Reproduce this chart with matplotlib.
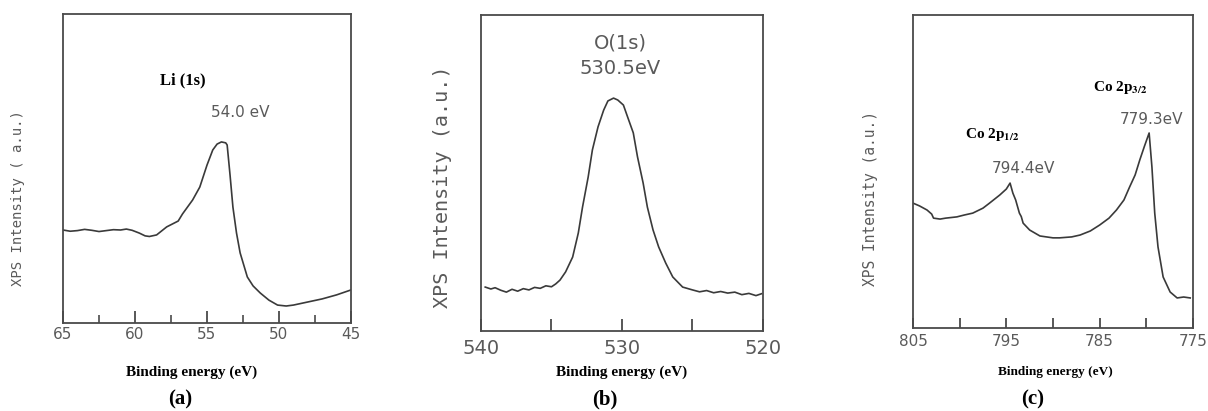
import matplotlib
matplotlib.use("Agg")
import matplotlib.pyplot as plt
from matplotlib.ticker import FixedLocator, FixedFormatter

plt.rcParams['mathtext.fontset'] = 'stix'

# ---- Panel (a): Li 1s ----
li_energy = [65.0, 64.5, 64.0, 63.5, 63.0, 62.5, 62.0, 61.5, 61.0, 60.6, 60.2, 59.7, 59.3, 59.0, 58.5,
             57.8, 57.0, 56.7, 56.0, 55.5, 55.0, 54.6, 54.3, 54.0, 53.7, 53.6, 53.4, 53.2, 52.95,
             52.7, 52.2, 51.8, 51.3, 50.7, 50.1, 49.5, 49.0, 48.0, 47.0, 46.0, 45.0]
li_intensity = [30.1, 29.7, 29.9, 30.3, 30.0, 29.6, 29.9, 30.2, 30.1, 30.4, 30.0, 29.1, 28.2, 28.0, 28.5,
                31.1, 33.0, 35.3, 39.8, 44.0, 51.1, 56.0, 57.9, 58.6, 58.3, 57.6, 47.9, 37.5, 29.1,
                22.7, 14.9, 12.0, 9.7, 7.4, 5.8, 5.5, 5.8, 6.8, 7.8, 9.1, 10.7]

# ---- Panel (b): O 1s ----
o_energy = [539.7, 539.3, 539.0, 538.6, 538.2, 537.8, 537.4, 537.0, 536.6, 536.2, 535.8, 535.4,
            535.0, 534.7, 534.4, 534.0, 533.5, 533.1, 532.8, 532.4, 532.1, 531.7, 531.3, 531.0,
            530.6, 530.3, 529.9, 529.6, 529.2, 528.9, 528.5, 528.2, 527.8, 527.4, 526.9, 526.4,
            525.7, 525.0, 524.5, 524.0, 523.5, 523.0, 522.5, 522.0, 521.5, 521.0, 520.5, 520.1]
o_intensity = [13.9, 13.3, 13.7, 12.9, 12.3, 13.2, 12.6, 13.4, 13.0, 13.8, 13.5, 14.3,
               14.0, 14.9, 16.1, 18.7, 23.4, 31.0, 39.2, 48.7, 57.3, 64.6, 69.9, 72.8,
               73.7, 73.1, 71.5, 67.7, 62.7, 55.1, 46.8, 39.2, 32.0, 26.6, 21.5, 17.1,
               13.9, 13.0, 12.4, 12.8, 12.1, 12.5, 12.0, 12.3, 11.5, 11.9, 11.2, 11.8]

# ---- Panel (c): Co 2p ----
co_energy = [805.0, 804.3, 803.5, 803.0, 802.8, 802.1, 801.5, 800.3, 799.5, 798.6, 797.5, 796.8,
             795.7, 795.0, 794.6, 794.3, 794.0, 793.6, 793.4, 793.2, 792.5, 791.4, 790.0, 789.3,
             788.0, 787.1, 786.0, 785.0, 784.0, 783.2, 782.4, 781.8, 781.2, 780.7, 780.2, 779.7,
             779.4, 779.1, 778.75, 778.2, 777.45, 776.7, 776.0, 775.3]
co_intensity = [39.9, 39.0, 37.7, 36.4, 35.1, 34.8, 35.1, 35.5, 36.1, 36.7, 38.3, 39.9,
                42.5, 44.4, 46.3, 43.1, 40.9, 36.7, 35.6, 33.5, 31.3, 29.4, 28.8, 28.8,
                29.1, 29.7, 31.0, 32.9, 35.1, 37.7, 40.9, 45.0, 48.9, 53.7, 58.1, 62.3,
                51.4, 36.7, 25.9, 16.3, 11.5, 9.6, 9.9, 9.6]

W, H = 1208, 411
fig = plt.figure(figsize=(W / 100, H / 100), dpi=100)
fig.patch.set_facecolor('white')

line_col = '#3a3a3a'
spine_col = '#4a4a4a'
txt_gray = '#5a5a5a'


def make_ax(l, r, t, b):
    return fig.add_axes([l / W, 1 - b / H, (r - l) / W, (b - t) / H])


def style(ax, xlim, major, labels, minor, lsize, maj_len, min_len, pad):
    ax.set_xlim(*xlim)
    ax.set_ylim(0, 100)
    ax.set_yticks([])
    for s in ax.spines.values():
        s.set_color(spine_col)
        s.set_linewidth(1.3)
    ax.xaxis.set_major_locator(FixedLocator(major))
    ax.xaxis.set_major_formatter(FixedFormatter(labels))
    if minor:
        ax.xaxis.set_minor_locator(FixedLocator(minor))
    ax.tick_params(axis='x', which='major', direction='in', length=maj_len, width=1.3,
                   color=spine_col, labelsize=lsize, labelcolor=txt_gray, pad=pad)
    ax.tick_params(axis='x', which='minor', direction='in', length=min_len, width=1.2,
                   color=spine_col)


# (a)
ax1 = make_ax(63, 351, 14, 323)
ax1.plot(li_energy, li_intensity, color=line_col, lw=1.2)
style(ax1, (65, 45), [65, 60, 55, 50, 45], ['65', '60', '55', '50', '45'],
      [62.5, 57.5, 52.5, 47.5], 11, 9, 6, 3)
ax1.text(56.7, 78.6, 'Li (1s)', family='Liberation Serif', weight='bold', fontsize=12,
         ha='center', va='center', color='black')
ax1.text(52.7, 68.0, '54.0 eV', family='DejaVu Sans', fontsize=11, ha='center', va='center',
         color=txt_gray)

# (b)
ax2 = make_ax(481, 763, 15, 331)
ax2.plot(o_energy, o_intensity, color=line_col, lw=1.2)
style(ax2, (540, 520), [540, 535, 530, 525, 520], ['540', '', '530', '', '520'],
      None, 14, 9, 6, 6)
ax2.text(530.1, 91.1, 'O(1s)', family='DejaVu Sans', fontsize=14, ha='center', va='center',
         color=txt_gray)
ax2.text(530.1, 83.2, '530.5eV', family='DejaVu Sans', fontsize=14, ha='center', va='center',
         color=txt_gray)

# (c)
ax3 = make_ax(913, 1193, 15, 328)
ax3.plot(co_energy, co_intensity, color=line_col, lw=1.2)
style(ax3, (805, 775), [805, 800, 795, 790, 785, 780, 775],
      ['805', '', '795', '', '785', '', '775'], None, 11, 7, 5, 4)
ax3.text(782.8, 76.7, r'Co 2p$_{\mathbf{3/2}}$', family='Liberation Serif', weight='bold',
         fontsize=11, ha='center', va='center', color='black')
ax3.text(779.4, 66.5, '779.3eV', family='DejaVu Sans', fontsize=11, ha='center', va='center',
         color=txt_gray)
ax3.text(796.5, 61.7, r'Co 2p$_{\mathbf{1/2}}$', family='Liberation Serif', weight='bold',
         fontsize=11, ha='center', va='center', color='black')
ax3.text(793.2, 51.1, '794.4eV', family='DejaVu Sans', fontsize=11, ha='center', va='center',
         color=txt_gray)

# y labels
for x, y, fs, lab in [(18, 198, 10, 'XPS Intensity ( a.u.)'),
                      (442, 187, 14.5, 'XPS Intensity (a.u.)'),
                      (870, 199, 10.5, 'XPS Intensity (a.u.)')]:
    fig.text(x / W, 1 - y / H, lab, family='DejaVu Sans Mono', fontsize=fs, rotation=90,
             ha='center', va='center', color=txt_gray)

# x labels and panel letters
for x, fs in [(192, 11), (622, 11), (1055, 9.5)]:
    fig.text(x / W, 1 - 372 / H, 'Binding energy (eV)', family='Liberation Serif',
             weight='bold', fontsize=fs, ha='center', va='center', color='black')
for x, lab in [(180, '(a)'), (605, '(b)'), (1033, '(c)')]:
    fig.text(x / W, 1 - 399 / H, lab, family='Liberation Serif', weight='bold', fontsize=15,
             ha='center', va='center', color='black')

fig.savefig('out.png', dpi=100, facecolor='white')
